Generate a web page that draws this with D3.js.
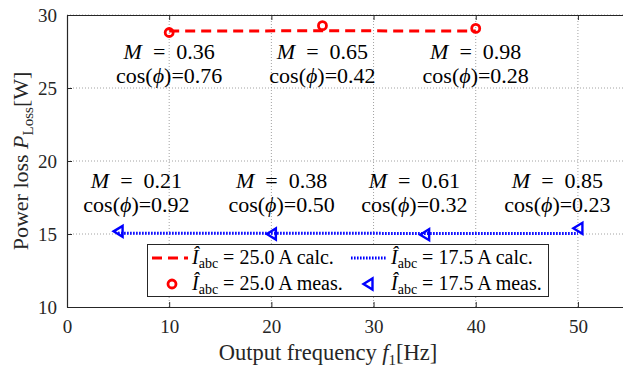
<!DOCTYPE html>
<html>
<head>
<meta charset="utf-8">
<script src="https://cdn.jsdelivr.net/npm/d3@7"></script>
<style>
    body { margin: 0; background: #ffffff; }
    svg text { font-family: "Liberation Serif", "DejaVu Serif", serif !important; }
    .axis path, .axis line { stroke: #262626; }
    .axis text { fill: #262626; font-size: 19px; }
    .grid line { stroke: #8a8a8a; stroke-width: 0.8; stroke-dasharray: 1,2; }
</style>
</head>
<body>
<svg id="chart" width="623" height="368"></svg>
<script>
// data
let freq25 = [10, 25, 40];
let calc25 = [28.9, 28.92, 28.9];
let meas25 = [28.8, 29.27, 29.08];

let freq17 = [5, 20, 35, 50];
let calc17 = [15.06, 15.05, 15.04, 15.03];
let meas17 = [15.18, 15.0, 14.95, 15.39];

// operating point labels (modulation index, power factor)
let topM   = ["0.36", "0.65", "0.98"];
let topCos = ["0.76", "0.42", "0.28"];
let topAt  = [10, 25, 40];
let botM   = ["0.21", "0.38", "0.61", "0.85"];
let botCos = ["0.92", "0.50", "0.32", "0.23"];
let botAt  = [6.8, 21, 34, 48];

let xTicks = [0, 10, 20, 30, 40, 50];
let yTicks = [10, 15, 20, 25, 30];

let serif = "'Liberation Serif', 'DejaVu Serif', serif";

function load_chart(svg_name) {
    let chart = d3.select(svg_name);

    let x = d3.scaleLinear()
        .domain([0, 55])
        .range([67, 629]);

    let y = d3.scaleLinear()
        .domain([10, 30])
        .range([307, 15]);

    // dotted grid
    chart.append("g")
        .attr("class", "grid")
        .selectAll("line")
        .data(xTicks.slice(1))
        .enter()
        .append("line")
        .attr("x1", function(d) { return x(d); })
        .attr("x2", function(d) { return x(d); })
        .attr("y1", y(10))
        .attr("y2", y(30));

    chart.append("g")
        .attr("class", "grid")
        .selectAll("line")
        .data(yTicks.slice(1))
        .enter()
        .append("line")
        .attr("x1", x(0))
        .attr("x2", x(55))
        .attr("y1", function(d) { return y(d); })
        .attr("y2", function(d) { return y(d); });

    // axes (ticks point inward like matlab)
    chart.append("g")
        .attr("class", "axis")
        .attr("font-family", serif)
        .attr("transform", "translate(0," + y(10) + ")")
        .call(d3.axisBottom(x).tickValues(xTicks).tickSizeInner(-5).tickSizeOuter(0).tickPadding(13))
        .call(function(g) { g.select(".domain").attr("stroke-width", 1.2); });

    chart.append("g")
        .attr("class", "axis")
        .attr("transform", "translate(0," + y(30) + ")")
        .call(d3.axisTop(x).tickValues(xTicks).tickSizeInner(-5).tickSizeOuter(0).tickFormat(""));

    chart.append("g")
        .attr("class", "axis")
        .attr("font-family", serif)
        .attr("transform", "translate(" + x(0) + ",0)")
        .call(d3.axisLeft(y).tickValues(yTicks).tickSizeInner(-5).tickSizeOuter(0).tickPadding(10))
        .call(function(g) { g.select(".domain").attr("stroke-width", 1.2); });

    // axis titles
    let xt = chart.append("text")
        .attr("x", 328)
        .attr("y", 360)
        .style("font-family", serif)
        .style("text-anchor", "middle")
        .style("font-size", "22.5px")
        .style("fill", "#262626");
    xt.append("tspan").text("Output frequency ");
    xt.append("tspan").style("font-style", "italic").text("f");
    xt.append("tspan").attr("dy", 5).style("font-size", "15px").text("1");
    xt.append("tspan").attr("dy", -5).text("[Hz]");

    let yt = chart.append("text")
        .attr("transform", "translate(28," + 161 + ") rotate(-90)")
        .style("font-family", serif)
        .style("text-anchor", "middle")
        .style("font-size", "22px")
        .style("fill", "#262626");
    yt.append("tspan").text("Power loss ");
    yt.append("tspan").style("font-style", "italic").text("P");
    yt.append("tspan").attr("dy", 5).style("font-size", "15px").text("Loss");
    yt.append("tspan").attr("dy", -5).text("[W]");

    // lines
    let line = d3.line()
        .x(function(d) { return x(d[0]); })
        .y(function(d) { return y(d[1]); });

    chart.append("path")
        .datum(d3.zip(freq25, calc25))
        .attr("fill", "none")
        .attr("stroke", "#ff0000")
        .attr("stroke-width", 3)
        .attr("stroke-dasharray", "10,6")
        .attr("d", line);

    chart.append("path")
        .datum(d3.zip(freq17, calc17))
        .attr("fill", "none")
        .attr("stroke", "#0000ff")
        .attr("stroke-width", 3)
        .attr("stroke-dasharray", "1.6,1.4")
        .attr("d", line);

    // measured markers
    chart.selectAll("redmarks")
        .data(d3.zip(freq25, meas25))
        .enter()
        .append("circle")
        .attr("cx", function(d) { return x(d[0]); })
        .attr("cy", function(d) { return y(d[1]); })
        .attr("r", 4)
        .attr("fill", "none")
        .attr("stroke", "#ff0000")
        .attr("stroke-width", 2.8);

    let tri = "M-4.5,0L4.5,-5.5L4.5,5.5Z";
    chart.selectAll("bluemarks")
        .data(d3.zip(freq17, meas17))
        .enter()
        .append("path")
        .attr("d", tri)
        .attr("transform", function(d) { return "translate(" + x(d[0]) + "," + y(d[1]) + ")"; })
        .attr("fill", "none")
        .attr("stroke", "#0000ff")
        .attr("stroke-width", 2.4)
        .attr("stroke-linejoin", "miter");

    // annotations
    function addLabel(f, yM, m, c) {
        let t1 = chart.append("text")
            .attr("x", x(f))
            .attr("y", yM)
            .attr("xml:space", "preserve")
            .style("font-family", serif)
            .style("text-anchor", "middle")
            .style("font-size", "22px")
            .style("fill", "#000000");
        t1.append("tspan").style("font-style", "italic").text("M");
        t1.append("tspan").text("\u2002=\u2002" + m);

        let t2 = chart.append("text")
            .attr("x", x(f))
            .attr("y", yM + 24)
            .style("font-family", serif)
            .style("text-anchor", "middle")
            .style("font-size", "22px")
            .style("fill", "#000000");
        t2.append("tspan").text("cos(");
        t2.append("tspan").style("font-style", "italic").text("\u03d5");
        t2.append("tspan").text(")=" + c);
    }
    for (let i = 0; i < topM.length; i++) addLabel(topAt[i], 59, topM[i], topCos[i]);
    for (let i = 0; i < botM.length; i++) addLabel(botAt[i], 188, botM[i], botCos[i]);

    // legend
    let lg = chart.append("g");
    lg.append("rect")
        .attr("x", 147.5)
        .attr("y", 244.5)
        .attr("width", 401)
        .attr("height", 52)
        .attr("fill", "#ffffff")
        .attr("stroke", "#262626")
        .attr("stroke-width", 1);

    let entries = [
        {col: 0, row: 0, label: "25.0", kind: "calc."},
        {col: 1, row: 0, label: "17.5", kind: "calc."},
        {col: 0, row: 1, label: "25.0", kind: "meas."},
        {col: 1, row: 1, label: "17.5", kind: "meas."}
    ];
    let colX = [152, 351];
    let rowY = [258, 284];

    entries.forEach(function(e) {
        let cx = colX[e.col], cy = rowY[e.row];
        let red = e.col == 0;
        if (e.row == 0) {
            lg.append("line")
                .attr("x1", cx).attr("x2", cx + 36)
                .attr("y1", cy).attr("y2", cy)
                .attr("stroke", red ? "#ff0000" : "#0000ff")
                .attr("stroke-width", 3)
                .attr("stroke-dasharray", red ? "10,6" : "1.6,1.4");
        } else if (red) {
            lg.append("circle")
                .attr("cx", cx + 20).attr("cy", cy)
                .attr("r", 4)
                .attr("fill", "none")
                .attr("stroke", "#ff0000")
                .attr("stroke-width", 2.8);
        } else {
            lg.append("path")
                .attr("d", tri)
                .attr("transform", "translate(" + (cx + 17) + "," + cy + ")")
                .attr("fill", "none")
                .attr("stroke", "#0000ff")
                .attr("stroke-width", 2.4);
        }
        let t = lg.append("text")
            .attr("x", cx + 40)
            .attr("y", cy + 6)
            .attr("xml:space", "preserve")
            .style("font-family", serif)
            .style("font-size", "20px")
            .style("fill", "#000000");
        t.append("tspan").style("font-style", "italic").text("\u00ce");
        t.append("tspan").attr("dy", 4).style("font-size", "14px").text("abc");
        t.append("tspan").attr("dy", -4).text(" = " + e.label + " A " + e.kind);
    });

    return { chart: chart, x_scale: x, y_scale: y };
}

load_chart("#chart");
</script>
</body>
</html>
